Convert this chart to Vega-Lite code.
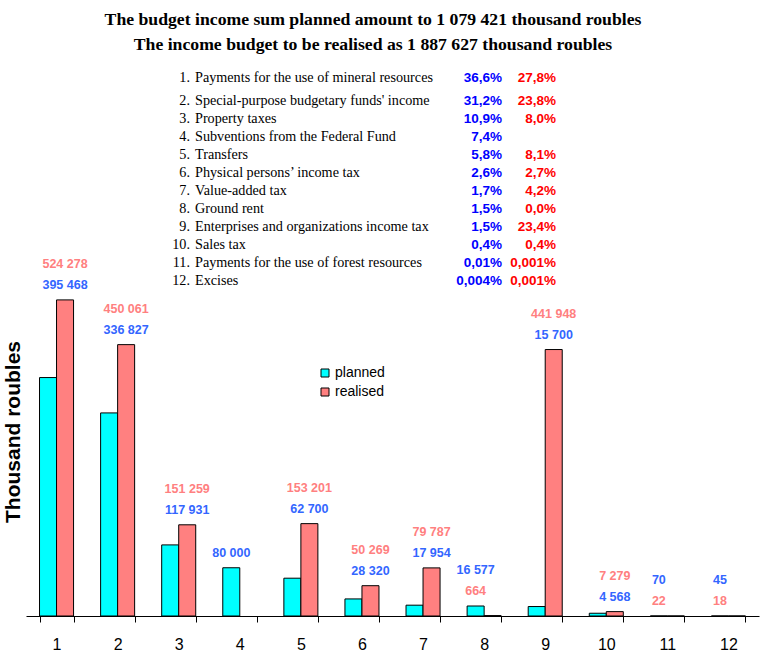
{
  "$schema": "https://vega.github.io/schema/vega-lite/v6.json",
  "width": 733,
  "height": 369,
  "autosize": {"type": "none"},
  "padding": {"left": 26, "top": 247, "right": 14, "bottom": 50},
  "background": "white",
  "title": {
    "text": ["The budget income sum planned amount to 1 079 421 thousand roubles", "The income budget to be realised as 1 887 627 thousand roubles"],
    "font": "Liberation Serif",
    "fontSize": 17.7,
    "fontWeight": "bold",
    "color": "black",
    "lineHeight": 25,
    "anchor": "middle",
    "dx": -19.5,
    "offset": 17.5
  },
  "config": {
    "view": {"stroke": null},
    "locale": {"number": {"decimal": ",", "thousands": " ", "grouping": [3], "currency": ["", ""]}}
  },
  "datasets": {
    "budget": [
      {"cat": 1, "series": "planned", "value": 395468},
      {"cat": 1, "series": "realised", "value": 524278},
      {"cat": 2, "series": "planned", "value": 336827},
      {"cat": 2, "series": "realised", "value": 450061},
      {"cat": 3, "series": "planned", "value": 117931},
      {"cat": 3, "series": "realised", "value": 151259},
      {"cat": 4, "series": "planned", "value": 80000},
      {"cat": 5, "series": "planned", "value": 62700},
      {"cat": 5, "series": "realised", "value": 153201},
      {"cat": 6, "series": "planned", "value": 28320},
      {"cat": 6, "series": "realised", "value": 50269},
      {"cat": 7, "series": "planned", "value": 17954},
      {"cat": 7, "series": "realised", "value": 79787},
      {"cat": 8, "series": "planned", "value": 16577},
      {"cat": 8, "series": "realised", "value": 664},
      {"cat": 9, "series": "planned", "value": 15700},
      {"cat": 9, "series": "realised", "value": 441948},
      {"cat": 10, "series": "planned", "value": 4568},
      {"cat": 10, "series": "realised", "value": 7279},
      {"cat": 11, "series": "planned", "value": 70},
      {"cat": 11, "series": "realised", "value": 22},
      {"cat": 12, "series": "planned", "value": 45},
      {"cat": 12, "series": "realised", "value": 18}
    ],
    "items": [
      {"n": 1, "name": "Payments for the use of mineral resources", "p": "36,6%", "r": "27,8%"},
      {"n": 2, "name": "Special-purpose budgetary funds' income", "p": "31,2%", "r": "23,8%"},
      {"n": 3, "name": "Property taxes", "p": "10,9%", "r": "8,0%"},
      {"n": 4, "name": "Subventions from the Federal Fund", "p": "7,4%", "r": ""},
      {"n": 5, "name": "Transfers", "p": "5,8%", "r": "8,1%"},
      {"n": 6, "name": "Physical persons’ income tax", "p": "2,6%", "r": "2,7%"},
      {"n": 7, "name": "Value-added tax", "p": "1,7%", "r": "4,2%"},
      {"n": 8, "name": "Ground rent", "p": "1,5%", "r": "0,0%"},
      {"n": 9, "name": "Enterprises and organizations income tax", "p": "1,5%", "r": "23,4%"},
      {"n": 10, "name": "Sales tax", "p": "0,4%", "r": "0,4%"},
      {"n": 11, "name": "Payments for the use of forest resources", "p": "0,01%", "r": "0,001%"},
      {"n": 12, "name": "Excises", "p": "0,004%", "r": "0,001%"}
    ]
  },
  "layer": [
    {
      "data": {"name": "budget"},
      "transform": [
        {"joinaggregate": [{"op": "argmax", "field": "value", "as": "top"}], "groupby": ["cat"]},
        {"window": [{"op": "rank", "as": "rank"}], "sort": [{"field": "value", "order": "ascending"}], "groupby": ["cat"]}
      ],
      "encoding": {
        "x": {
          "field": "cat",
          "type": "ordinal",
          "scale": {"paddingInner": 0.443, "paddingOuter": 0.2215},
          "axis": {
            "title": null,
            "labelAngle": 0,
            "labelFont": "Liberation Sans",
            "labelFontSize": 16,
            "labelColor": "black",
            "labelPadding": 14,
            "tickBand": "extent",
            "tickSize": 6,
            "tickColor": "black",
            "domainColor": "black",
            "domainWidth": 1,
            "grid": false
          }
        }
      },
      "layer": [
        {
          "mark": {"type": "bar", "stroke": "black", "strokeWidth": 1},
          "encoding": {
            "xOffset": {"field": "series", "type": "nominal", "scale": {"domain": ["planned", "realised"]}},
            "y": {
              "field": "value",
              "type": "quantitative",
              "scale": {"domain": [0, 612000], "nice": false},
              "axis": {"title": "Thousand roubles", "labels": false, "ticks": false, "domain": false, "grid": false, "titleFont": "Liberation Sans", "titleFontSize": 21, "titleFontWeight": "bold", "titleColor": "black", "titlePadding": 3}
            },
            "color": {
              "field": "series",
              "type": "nominal",
              "scale": {"domain": ["planned", "realised"], "range": ["#00FFFF", "#FF8080"]},
              "legend": {"orient": "none", "legendX": 292, "legendY": 119, "title": null, "symbolType": "square", "symbolSize": 64, "symbolStrokeColor": "black", "symbolStrokeWidth": 1, "labelFont": "Liberation Sans", "labelFontSize": 14, "labelColor": "black", "rowPadding": 5, "labelOffset": 3, "padding": 0}
            }
          }
        },
        {
          "transform": [{"filter": "datum.rank === 1"}],
          "mark": {"type": "text", "font": "Liberation Sans", "fontSize": 12.5, "fontWeight": "bold", "baseline": "middle", "dy": -15},
          "encoding": {
            "xOffset": {"field": "top.series", "type": "nominal"},
            "y": {"field": "top.value", "type": "quantitative", "title": "Thousand roubles"},
            "text": {"field": "value", "type": "quantitative", "format": ","},
            "color": {"condition": {"test": "datum.series === 'planned'", "value": "#3366FF"}, "value": "#FF8080"}
          }
        },
        {
          "transform": [{"filter": "datum.rank === 2"}],
          "mark": {"type": "text", "font": "Liberation Sans", "fontSize": 12.5, "fontWeight": "bold", "baseline": "middle", "dy": -36},
          "encoding": {
            "xOffset": {"field": "top.series", "type": "nominal"},
            "y": {"field": "top.value", "type": "quantitative", "title": "Thousand roubles"},
            "text": {"field": "value", "type": "quantitative", "format": ","},
            "color": {"condition": {"test": "datum.series === 'planned'", "value": "#3366FF"}, "value": "#FF8080"}
          }
        }
      ]
    },
    {
      "data": {"name": "items"},
      "transform": [{"calculate": "datum.n + '.'", "as": "no"}],
      "encoding": {
        "y": {"field": "n", "type": "quantitative", "scale": {"domain": [1, 2, 12], "range": [-168.8, -146.2, 33.8], "nice": false, "zero": false}, "axis": null}
      },
      "layer": [
        {"mark": {"type": "text", "align": "right", "baseline": "middle", "font": "Liberation Serif", "fontSize": 14.2, "color": "black", "x": 164}, "encoding": {"text": {"field": "no"}}},
        {"mark": {"type": "text", "align": "left", "baseline": "middle", "font": "Liberation Serif", "fontSize": 14.2, "color": "black", "x": 169}, "encoding": {"text": {"field": "name"}}},
        {"mark": {"type": "text", "align": "right", "baseline": "middle", "font": "Liberation Sans", "fontSize": 13.5, "fontWeight": "bold", "color": "#0000FF", "x": 476}, "encoding": {"text": {"field": "p"}}},
        {"mark": {"type": "text", "align": "right", "baseline": "middle", "font": "Liberation Sans", "fontSize": 13.5, "fontWeight": "bold", "color": "#FF0000", "x": 530}, "encoding": {"text": {"field": "r"}}}
      ]
    }
  ],
  "resolve": {"scale": {"x": "independent", "y": "independent"}}
}
